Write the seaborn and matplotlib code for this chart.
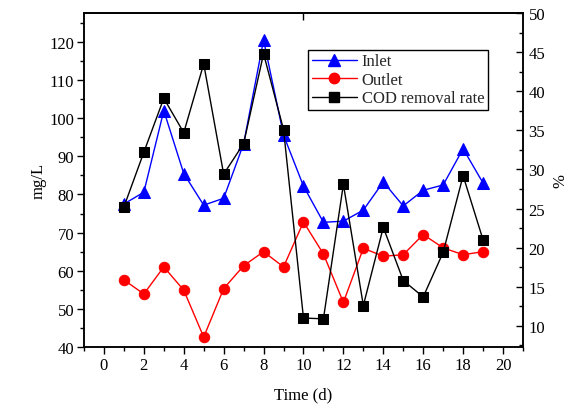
import matplotlib
matplotlib.use("Agg")
import matplotlib.pyplot as plt
import seaborn as sns
import pandas as pd
from matplotlib.lines import Line2D
from matplotlib.ticker import MultipleLocator, FixedLocator

days = list(range(1, 20))
inlet = [77.5, 80.6, 102.0, 85.5, 77.2, 79.0, 93.3, 120.5, 95.6, 82.2,
         72.7, 73.0, 75.9, 83.3, 77.0, 81.1, 82.5, 92.0, 83.0]
outlet = [57.6, 53.9, 61.0, 54.9, 42.6, 55.3, 61.3, 65.0, 61.0, 72.8,
          64.4, 51.7, 65.9, 63.8, 64.2, 69.5, 66.0, 64.2, 65.0]
cod_removal = [25.2, 32.2, 39.1, 34.7, 43.5, 29.4, 33.3, 44.8, 35.1, 11.0,
               10.9, 28.1, 12.6, 22.6, 15.8, 13.7, 19.4, 29.2, 21.0]
x_ticks = [0, 2, 4, 6, 8, 10, 12, 14, 16, 18, 20]

df = pd.DataFrame({"day": days, "inlet": inlet, "outlet": outlet, "cod": cod_removal})

sns.set_theme(style="ticks")
plt.rcParams["font.family"] = ["Liberation Serif", "DejaVu Serif"]
plt.rcParams["axes.linewidth"] = 1.1
fs = 12

fig = plt.figure(figsize=(5.69, 4.06), dpi=100)
ax = fig.add_axes([0.1476, 0.1429, 0.7715, 0.8226])
ax2 = ax.twinx()

sns.lineplot(data=df, x="day", y="inlet", ax=ax, color="#0000ff", marker="^",
             markersize=8.5, markeredgecolor="#0000ff", linewidth=1, zorder=3)
sns.lineplot(data=df, x="day", y="outlet", ax=ax, color="#ff0000", marker="o",
             markersize=7.5, markeredgecolor="#ff0000", linewidth=1, zorder=3)
sns.lineplot(data=df, x="day", y="cod", ax=ax2, color="black", marker="s",
             markersize=6.5, markeredgecolor="black", linewidth=1, zorder=3)

ax.set_xlim(-1, 21)
ax.set_ylim(40, 127.6)
ax2.set_ylim(7.3, 50)

ax.xaxis.set_major_locator(FixedLocator(x_ticks))
ax.xaxis.set_minor_locator(MultipleLocator(1))
ax.yaxis.set_major_locator(MultipleLocator(10))
ax.yaxis.set_minor_locator(MultipleLocator(5))
ax2.yaxis.set_major_locator(MultipleLocator(5))
ax2.yaxis.set_minor_locator(MultipleLocator(2.5))

for a in (ax, ax2):
    for s in a.spines.values():
        s.set_color("black")
        s.set_linewidth(1.1)

ax.tick_params(axis="both", which="major", direction="out", length=5, width=1,
               labelsize=fs, colors="black", pad=2)
ax.tick_params(axis="both", which="minor", direction="out", length=3, width=1, colors="black")
ax.tick_params(axis="x", top=False, which="both")
ax2.tick_params(axis="y", which="major", direction="in", length=5, width=1,
                labelsize=fs, colors="black", pad=4)
ax2.tick_params(axis="y", which="minor", direction="in", length=3, width=1, colors="black")

# single inward tick on the top spine at x=10
top = ax.secondary_xaxis("top")
top.set_xticks([10])
top.tick_params(direction="in", length=5, width=1, labeltop=False, colors="black")
top.spines["top"].set_linewidth(1.1)

ax.set_xlabel("Time (d)", fontsize=fs, color="black", labelpad=10)
ax.set_ylabel("mg/L", fontsize=fs, color="black", labelpad=2)
ax2.set_ylabel("%", fontsize=fs, color="black", labelpad=5)

handles = [
    Line2D([], [], color="#0000ff", marker="^", markersize=8.5, linewidth=1),
    Line2D([], [], color="#ff0000", marker="o", markersize=7.5, linewidth=1),
    Line2D([], [], color="black", marker="s", markersize=6.5, linewidth=1),
]
if ax.get_legend():
    ax.get_legend().remove()
if ax2.get_legend():
    ax2.get_legend().remove()
leg = ax2.legend(handles, ["Inlet", "Outlet", "COD removal rate"], loc="upper right",
                 bbox_to_anchor=(0.857, 0.874), bbox_transform=fig.transFigure,
                 fontsize=fs, frameon=True, fancybox=False, framealpha=1,
                 edgecolor="black", borderpad=0.2, labelspacing=0.15,
                 handlelength=2.7, handletextpad=0.3, borderaxespad=0)
leg.get_frame().set_linewidth(1)

fig.savefig("out.png", dpi=100)
